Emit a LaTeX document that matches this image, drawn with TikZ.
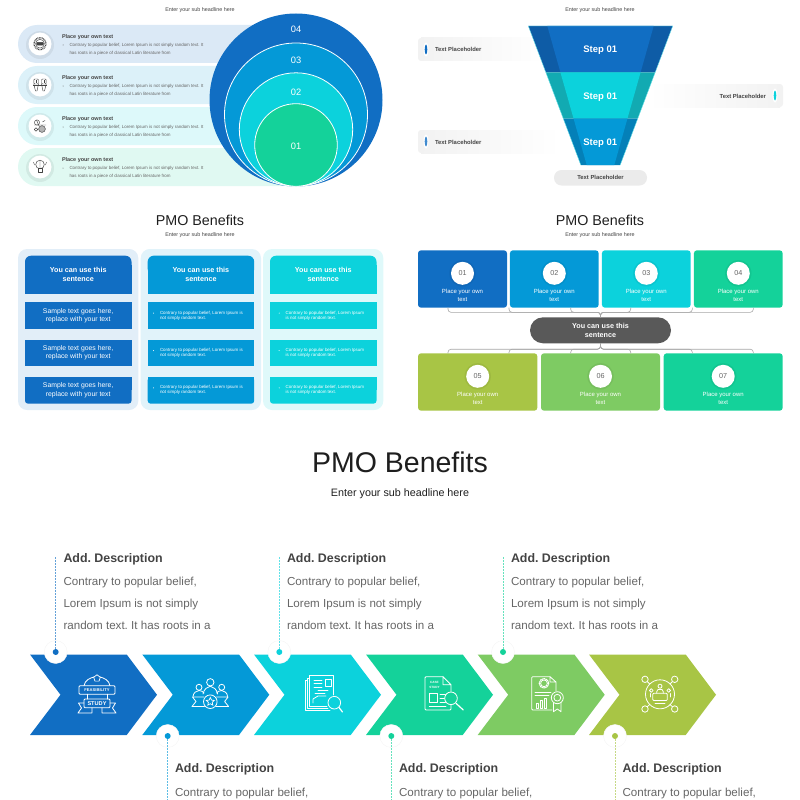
\documentclass[tikz,border=0pt]{standalone}
\usepackage{fontspec}
\setmainfont{Liberation Sans}
\frenchspacing
\usetikzlibrary{calc,positioning,shapes.geometric}

\definecolor{cNavy}{HTML}{116EC3}
\definecolor{cSky}{HTML}{0499D7}
\definecolor{cAqua}{HTML}{0CD2DC}
\definecolor{cMint}{HTML}{14D29A}
\definecolor{cLeaf}{HTML}{7ECB63}
\definecolor{cMoss}{HTML}{A8C545}
\definecolor{cNavyDark}{HTML}{0E5CA6}
\definecolor{cAquaDark}{HTML}{12AAB2}
\definecolor{cSkyDark}{HTML}{0480B8}
\definecolor{cInk}{HTML}{1E1E1E}
\definecolor{cHead}{HTML}{434343}
\definecolor{cBody}{HTML}{666666}
\definecolor{cPill}{HTML}{595959}

\tikzset{
    txt/.style={inner sep=0pt,outer sep=0pt,align=center},
    ltxt/.style={txt,anchor=west,align=left},
    bigtitle/.style={txt,text=cInk,font=\fontsize{28.5}{34}\selectfont},
    bigsub/.style={txt,text=cInk,font=\fontsize{10.75}{13}\selectfont},
    smalltitle/.style={txt,text=cInk,font=\fontsize{14.3}{17}\selectfont},
    smallsub/.style={txt,text=cHead,font=\fontsize{5.4}{6.5}\selectfont},
    rowhead/.style={ltxt,text=cHead,font=\bfseries\fontsize{5.45}{6.5}\selectfont},
    rowbody/.style={ltxt,text=cBody,font=\fontsize{4.45}{5}\selectfont},
    ringnum/.style={txt,text=white,font=\fontsize{9.3}{11}\selectfont},
    stepnum/.style={txt,text=white,font=\bfseries\fontsize{9.5}{11}\selectfont},
    holder/.style={txt,text=cHead,font=\bfseries\fontsize{5.85}{7}\selectfont},
    colhead/.style={txt,text=white,font=\bfseries\fontsize{7.2}{9.3}\selectfont},
    colsample/.style={txt,text=white,font=\fontsize{6.85}{8.3}\selectfont},
    colsmall/.style={ltxt,text=white,font=\fontsize{4.45}{5}\selectfont},
    capbox/.style={txt,text=white,font=\fontsize{6}{7.4}\selectfont},
    tile/.style={inner sep=0pt,minimum height=57.4pt,rounded corners=3pt},
    disc/.style={circle,fill=white,inner sep=0pt,minimum size=23pt,text=cBody,font=\fontsize{7.2}{8.5}\selectfont},
    sentence/.style={fill=cPill,rounded corners=13pt,inner sep=0pt,minimum width=141pt,minimum height=26pt,align=center,text=white,font=\bfseries\fontsize{7.2}{9.3}\selectfont},
    bracket/.style={draw=black!35,line width=0.6pt,rounded corners=3pt},
    softring/.style={fill=black,opacity=0.06},
    addhead/.style={ltxt,text=cHead,font=\bfseries\fontsize{12.4}{15}\selectfont},
    addbody/.style={ltxt,text=cBody,font=\fontsize{11.6}{14}\selectfont},
    halo/.style={circle,fill=white,draw=black!4,inner sep=0pt,minimum size=23pt},
    spot/.style={circle,inner sep=0pt,minimum size=6pt},
    iconline/.style={draw=white,line width=0.8pt,line join=round,line cap=round},
    smallicon/.style={draw=cHead,line width=0.45pt,line join=round},
    iconword/.style={txt,text=white,font=\bfseries\fontsize{4.1}{5}\selectfont}
}

\newcommand{\benefitrow}[3]{
    \fill[#3,rounded corners=19pt] (18,#2-19) rectangle (300,#2+19);
    \fill[softring] (40,#2+1) circle (14);
    \fill[white] (40,#2) circle (11.5);
    \node[rowhead] (#1head) at (62,#2-7.3) {Place your own text};
    \fill[cBody] (63,#2+1) circle (0.5);
    \node[rowbody] (#1one) at (69.5,#2+1.3) {Contrary to popular belief, Lorem Ipsum is not simply random text. It};
    \node[rowbody] (#1two) at (69.5,#2+9.3) {has roots in a piece of classical Latin literature from};
}
\newcommand{\benefitcol}[4]{
    \fill[#4,rounded corners=9pt] (#2-7,249) rectangle (#2+113.3,410);
    \fill[#3,rounded corners=6pt] (#2,255.7) rectangle (#2+106.5,275);
    \fill[#3] (#2,265) rectangle (#2+106.5,293.7);
    \fill[#3] (#2,302.3) rectangle (#2+106.5,329);
    \fill[#3] (#2,339.7) rectangle (#2+106.5,366.3);
    \fill[#3,rounded corners=3pt] (#2,377) rectangle (#2+106.5,403.7);
    \fill[#3] (#2,377) rectangle (#2+106.5,390);
    \node[colhead] (#1head) at (#2+53.2,274.7) {You can use this\\sentence};
}
\newcommand{\sampleline}[3]{
    \node[colsample] (#1) at (#2,#3) {Sample text goes here,\\replace with your text};
}
\newcommand{\contraryline}[5]{
    \fill[white] (#2-6.5,#3-2.5) circle (0.5);
    \node[colsmall] (#1) at (#2,#3) {#4\\#5};
}
\newcommand{\numbertile}[5]{
    \node[tile,fill=#5,minimum width=#4pt] (tile#1) at (#2,#3) {};
    \fill[softring] ($(tile#1.center)+(0,-5.7)$) circle (13.2);
    \node[disc] (disc#1) at ($(tile#1.center)+(0,-5.7)$) {#1};
    \node[capbox] (cap#1) at ($(tile#1.center)+(0,16.5)$) {Place your own\\text};
}
\newcommand{\chevron}[2]{
    \fill[#2] (#1,654.5) -- ++(96.7,0) -- ++(30.3,40.25) -- ++(-30.3,40.25) -- ++(-96.7,0) -- ++(30.5,-40.25) -- cycle;
}
\newcommand{\descthree}[2]{
    \node[addhead] (#1head) at (#2,558.8) {Add. Description};
    \node[addbody] (#1one) at (#2,582.8) {Contrary to popular belief,};
    \node[addbody] (#1two) at (#2,604.3) {Lorem Ipsum is not simply};
    \node[addbody] (#1three) at (#2,625.3) {random text. It has roots in a};
}
\newcommand{\descone}[2]{
    \node[addhead] (#1head) at (#2,768.8) {Add. Description};
    \node[addbody] (#1one) at (#2,793.5) {Contrary to popular belief,};
}
\newcommand{\marker}[5]{
    \coordinate (#1end) at (#2,#4);
    \node[halo] (#1halo) at (#2,#3) {};
    \draw[color=#5!65,line width=0.8pt,dash pattern=on 1.6pt off 1.4pt] (#1halo.center) -- (#1end);
    \node[spot,fill=#5] (#1spot) at (#2,#3) {};
}
\newcommand{\holderbar}[4]{
    \shade[left color=black!5,right color=white] (#1+3,#2) rectangle (#3,#2+23);
    \fill[black!5,rounded corners=3pt] (#1,#2) rectangle (#1+6,#2+23);
    \fill[white] (#1+8,#2+11.5) ellipse (2.5 and 7);
    \fill[#4] (#1+8,#2+11.5) ellipse (1.3 and 5);
}

\begin{document}
\begin{tikzpicture}[x=1pt,y=-1pt]
    \useasboundingbox (0,0) rectangle (800,800);

    \node[smalltitle] (titleA) at (200,-5.5) {PMO Benefits};
    \node[smallsub] (subA) at (200,10.3) {Enter your sub headline here};
    \node[smalltitle] (titleB) at (600,-5.5) {PMO Benefits};
    \node[smallsub] (subB) at (600,10.3) {Enter your sub headline here};

    \benefitrow{rowA}{44}{cNavy!15}
    \benefitrow{rowB}{85}{cSky!14}
    \benefitrow{rowC}{126}{cAqua!14}
    \benefitrow{rowD}{167}{cMint!13}

    \draw[smallicon,line width=1.2pt,dash pattern=on 0.8pt off 0.7pt] (40,43.7) circle (6);
    \draw[smallicon] (40,43.7) circle (4.4);
    \draw[smallicon,rounded corners=1pt,fill=cHead] (36.5,42.3) rectangle (43.5,45.1);
    \draw[smallicon,rounded corners=1pt] (33.8,79) rectangle (38.5,84);
    \draw[smallicon,rounded corners=1pt] (41.5,79) rectangle (46.2,84);
    \draw[smallicon] (33.8,84) -- (35.5,91) -- (37,91) -- (38.5,84) (41.5,84) -- (43,91) -- (44.5,91) -- (46.2,84);
    \draw[smallicon,line width=0.9pt] (33.2,85.5) -- (46.8,85.5);
    \draw[smallicon,line width=0.8pt] (36,80) -- (36,83) (44,80) -- (44,83);
    \draw[smallicon] (37,122.5) circle (2.6);
    \draw[smallicon,fill=cHead!40] (42,129) circle (3.4);
    \draw[smallicon] (36,129.5) circle (1.8);
    \draw[smallicon] (42.5,122) -- (45,120.5) (39,126) -- (36.5,120) (34,125) -- (46,125);
    \draw[smallicon] (40,164.5) circle (4.3);
    \draw[smallicon] (38,168.5) rectangle (42,172.3);
    \draw[smallicon] (40,160.5) -- (40,168.5) (33.5,162) -- (34.5,165) (46.5,162) -- (45.5,165);

    \fill[cNavy] (296,100) circle (86.5);
    \draw[white,line width=0.8pt,fill=cSky] (296,114.5) circle (71.5);
    \draw[white,line width=0.8pt,fill=cAqua] (296,129.5) circle (56.7);
    \draw[white,line width=0.8pt,fill=cMint] (296,145) circle (41.3);
    \node[ringnum] (ringD) at (296,29.5) {04};
    \node[ringnum] (ringC) at (296,60.5) {03};
    \node[ringnum] (ringB) at (296,92) {02};
    \node[ringnum] (ringA) at (296,146) {01};

    \coordinate (FaL) at (528.3,26);
    \coordinate (FaR) at (672.7,26);
    \coordinate (FbL) at (545.8,72.3);
    \coordinate (FbR) at (655.2,72.3);
    \coordinate (FcL) at (563.3,118.7);
    \coordinate (FcR) at (637.7,118.7);
    \coordinate (FdL) at (580.8,165);
    \coordinate (FdR) at (620.2,165);
    \coordinate (GaL) at (547.3,26);
    \coordinate (GaR) at (653.7,26);
    \coordinate (GbL) at (560.4,72.3);
    \coordinate (GbR) at (640.6,72.3);
    \coordinate (GcL) at (573.6,118.7);
    \coordinate (GcR) at (627.4,118.7);
    \coordinate (GdL) at (586.7,165);
    \coordinate (GdR) at (614.3,165);

    \holderbar{418}{38}{545}{cNavy}
    \holderbar{418}{130}{560}{cNavy!80}
    \shade[left color=white,right color=black!5] (648,84) rectangle (780,107);
    \fill[black!5,rounded corners=3pt] (777,84) rectangle (783,107);
    \fill[white] (775,95.5) ellipse (2.5 and 7);
    \fill[cAqua] (775,95.5) ellipse (1.3 and 5);
    \fill[black!8,rounded corners=7.5pt] (554,170) rectangle (647,185.5);

    \fill[cNavyDark] (FaL) -- (FaR) -- (FbR) -- (FbL) -- cycle;
    \fill[cNavy] (GaL) -- (GaR) -- (GbR) -- (GbL) -- cycle;
    \fill[cAquaDark] (FbL) -- (FbR) -- (FcR) -- (FcL) -- cycle;
    \fill[cAqua] (GbL) -- (GbR) -- (GcR) -- (GcL) -- cycle;
    \fill[cSkyDark] (FcL) -- (FcR) -- (FdR) -- (FdL) -- cycle;
    \fill[cSky] (GcL) -- (GcR) -- (GdR) -- (GdL) -- cycle;
    \draw[cAqua!60,line width=0.4pt] (FdL) -- (FaL) -- (FaR) -- (FdR);

    \node[stepnum] (stepA) at (600.3,50.3) {Step 01};
    \node[stepnum] (stepB) at (600.3,96.8) {Step 01};
    \node[stepnum] (stepC) at (600.3,142.8) {Step 01};
    \node[holder,anchor=west] (holdA) at (435,49.8) {Text Placeholder};
    \node[holder,anchor=east] (holdB) at (766,96) {Text Placeholder};
    \node[holder,anchor=west] (holdC) at (435,142) {Text Placeholder};
    \node[holder] (holdD) at (600.5,177.7) {Text Placeholder};

    \node[smalltitle] (titleC) at (200,220) {PMO Benefits};
    \node[smallsub] (subC) at (200,235.3) {Enter your sub headline here};
    \node[smalltitle] (titleD) at (600,220) {PMO Benefits};
    \node[smallsub] (subD) at (600,235.3) {Enter your sub headline here};

    \benefitcol{colA}{25}{cNavy}{cNavy!12}
    \benefitcol{colB}{147.7}{cSky}{cSky!12}
    \benefitcol{colC}{270}{cAqua}{cAqua!13}
    \sampleline{sampleA}{78.2}{315.6}
    \sampleline{sampleB}{78.2}{353}
    \sampleline{sampleC}{78.2}{390.3}
    \contraryline{smallA}{160}{315.6}{Contrary to popular belief, Lorem Ipsum is}{not simply random text.}
    \contraryline{smallB}{160}{353}{Contrary to popular belief, Lorem Ipsum is}{not simply random text.}
    \contraryline{smallC}{160}{390.3}{Contrary to popular belief, Lorem Ipsum is}{not simply random text.}
    \contraryline{smallD}{285.7}{315.6}{Contrary to popular belief, Lorem Ipsum}{is not simply random text.}
    \contraryline{smallE}{285.7}{353}{Contrary to popular belief, Lorem Ipsum}{is not simply random text.}
    \contraryline{smallF}{285.7}{390.3}{Contrary to popular belief, Lorem Ipsum}{is not simply random text.}

    \numbertile{01}{462.5}{279}{89}{cNavy}
    \numbertile{02}{554.3}{279}{88.7}{cSky}
    \numbertile{03}{646.3}{279}{88.7}{cAqua}
    \numbertile{04}{738.3}{279}{88.7}{cMint}
    \numbertile{05}{477.7}{382}{119.3}{cMoss}
    \numbertile{06}{600.5}{382}{119}{cLeaf}
    \numbertile{07}{723.2}{382}{119}{cMint}
    \node[sentence] (pill) at (600.5,330.3) {You can use this\\sentence};

    \coordinate (ta) at (448,307.7);
    \coordinate (tb) at (509,307.7);
    \coordinate (tc) at (570.7,307.7);
    \coordinate (td) at (630.7,307.7);
    \coordinate (te) at (692.3,307.7);
    \coordinate (tf) at (753.3,307.7);
    \coordinate (ua) at (448,353.3);
    \coordinate (ub) at (509,353.3);
    \coordinate (uc) at (570.7,353.3);
    \coordinate (ud) at (630.7,353.3);
    \coordinate (ue) at (692.3,353.3);
    \coordinate (uf) at (753.3,353.3);
    \draw[bracket] (pill.north) -- ++(0,-4.8) -| (ta);
    \draw[bracket] (pill.north) -- ++(0,-4.8) -| (tb);
    \draw[bracket] (pill.north) -- ++(0,-4.8) -| (tc);
    \draw[bracket] (pill.north) -- ++(0,-4.8) -| (td);
    \draw[bracket] (pill.north) -- ++(0,-4.8) -| (te);
    \draw[bracket] (pill.north) -- ++(0,-4.8) -| (tf);
    \draw[bracket] (pill.south) -- ++(0,5.7) -| (ua);
    \draw[bracket] (pill.south) -- ++(0,5.7) -| (ub);
    \draw[bracket] (pill.south) -- ++(0,5.7) -| (uc);
    \draw[bracket] (pill.south) -- ++(0,5.7) -| (ud);
    \draw[bracket] (pill.south) -- ++(0,5.7) -| (ue);
    \draw[bracket] (pill.south) -- ++(0,5.7) -| (uf);

    \node[bigtitle] (titleE) at (400,462.5) {PMO Benefits};
    \node[bigsub] (subE) at (400,494) {Enter your sub headline here};

    \descthree{addA}{63.5}
    \descthree{addC}{287}
    \descthree{addE}{511}
    \descone{addB}{175}
    \descone{addD}{399}
    \descone{addF}{622.5}

    \chevron{30}{cNavy}
    \chevron{142.3}{cSky}
    \chevron{254}{cAqua}
    \chevron{366}{cMint}
    \chevron{477.7}{cLeaf}
    \chevron{589}{cMoss}

    \marker{mA}{55.7}{652}{557}{cNavy}
    \marker{mB}{167.7}{736}{800}{cSky}
    \marker{mC}{279.3}{652}{557}{cAqua}
    \marker{mD}{391.3}{736}{800}{cMint}
    \marker{mE}{503}{652}{557}{cMint}
    \marker{mF}{615}{736}{800}{cMoss}

    \draw[iconline,rounded corners=1pt] (79,685.7) rectangle (115,694.3);
    \node[iconword] (wordA) at (97,690) {FEASIBILITY};
    \draw[iconline] (84,685.7) .. controls (85,680) and (90,678) .. (94,677) (100,677) .. controls (104,678) and (109,680) .. (110,685.7);
    \node[regular polygon,regular polygon sides=5,draw=white,line width=0.7pt,inner sep=0pt,minimum size=7pt] (penA) at (97,678.3) {};
    \draw[iconline] (87,694.3) -- (87,699) (107,694.3) -- (107,699);
    \draw[iconline,rounded corners=1pt] (84,699) rectangle (110,707.7);
    \node[iconword,font=\bfseries\fontsize{5.6}{6}\selectfont] (wordB) at (97,703.4) {STUDY};
    \draw[iconline] (84,703) -- (78.5,703) -- (81.5,708) -- (78,713) -- (92,713) -- (92,707.7);
    \draw[iconline] (110,703) -- (115.5,703) -- (112.5,708) -- (116,713) -- (102,713) -- (102,707.7);

    \draw[iconline] (210.3,682.3) circle (3.7);
    \draw[iconline] (199,687.3) circle (3);
    \draw[iconline] (221.7,687.3) circle (3);
    \draw[iconline] (203,694) .. controls (204,689) and (207,687) .. (210.3,686.2) .. controls (213.6,687) and (216.6,689) .. (217.6,694);
    \draw[iconline] (193,696.5) .. controls (193.5,692.5) and (196,691) .. (199,690.5) .. controls (201,690.6) and (203,691.5) .. (204,693);
    \draw[iconline] (227.6,696.5) .. controls (227.1,692.5) and (224.6,691) .. (221.6,690.5) .. controls (219.6,690.6) and (217.6,691.5) .. (216.6,693);
    \draw[iconline] (204,697) -- (192.5,697) -- (196,701.5) -- (192,706.5) -- (204.5,706.5);
    \draw[iconline] (216.6,697) -- (228.1,697) -- (224.6,701.5) -- (228.6,706.5) -- (216.1,706.5);
    \draw[iconline,fill=cSky] (210.3,701.7) circle (6.8);
    \node[star,star points=5,star point ratio=2.1,draw=white,line width=0.7pt,inner sep=0pt,minimum size=8.5pt] (starB) at (210.3,701.7) {};

    \draw[iconline] (333.3,695) -- (333.3,675) -- (309.3,675) -- (309.3,706) -- (327,706);
    \draw[iconline] (309.3,678) -- (307,678) -- (307,708.5) -- (328,708.5);
    \draw[iconline] (307,680.5) -- (305,680.5) -- (305,710.7) -- (330,710.7);
    \draw[iconline] (314,680) -- (322,680) (314,683.5) -- (322,683.5) (314,687) -- (322,687);
    \draw[iconline] (325,679.5) rectangle (331,686);
    \draw[iconline] (318,690) -- (328,690) (315,693) -- (325,693);
    \draw[iconline] (313,703) -- (313,699) -- (318,696) -- (326,696);
    \draw[iconline,fill=cAqua] (334.3,702.7) circle (6.3);
    \draw[iconline,line width=1.2pt] (339,707.5) -- (342.5,712);

    \draw[iconline,rounded corners=1pt] (443,676.7) -- (425,676.7) -- (425,710) -- (451,710) -- (451,704.8);
    \draw[iconline] (451,691.5) -- (451,684.7) -- (443,676.7) -- (443,684.7) -- (451,684.7);
    \node[iconword,font=\bfseries\fontsize{3.1}{4}\selectfont] (wordC) at (434.5,682) {CASE};
    \node[iconword,font=\bfseries\fontsize{3.1}{4}\selectfont] (wordD) at (434.5,687) {STUDY};
    \draw[iconline] (429.3,693.3) rectangle (437.7,702.3);
    \draw[iconline] (440,694) -- (445.5,694) (440,698) -- (444.5,698) (440,702) -- (445.5,702) (429.3,706.5) -- (446,706.5);
    \draw[iconline,fill=cMint] (451,698.3) circle (6.3);
    \draw[iconline,line width=1.2pt] (456,703.3) -- (463.3,710);

    \draw[iconline,rounded corners=1pt] (550,676.7) -- (531.7,676.7) -- (531.7,710) -- (552,710);
    \draw[iconline] (556,691) -- (556,682) -- (550,676.7) -- (550,682) -- (556,682);
    \draw[iconline,line width=1.1pt,dash pattern=on 1pt off 1pt] (544,683.3) circle (4.8);
    \draw[iconline] (544,683.3) circle (3.4);
    \draw[iconline] (535,692.3) -- (551,692.3) (535,695.7) -- (549,695.7);
    \draw[iconline] (536,703) rectangle (538.5,708);
    \draw[iconline] (540,700.5) rectangle (542.5,708);
    \draw[iconline] (544,698.5) rectangle (546.5,708);
    \draw[iconline] (553.5,702.5) -- (553.5,711.7) -- (557.3,709) -- (561,711.7) -- (561,702.5);
    \draw[iconline,fill=cLeaf] (557.3,697.7) circle (6);
    \draw[iconline] (557.3,697.7) circle (3.4);

    \draw[iconline] (660,694.3) circle (14.5);
    \draw[iconline] (645,679.3) circle (3.2);
    \draw[iconline] (674.7,679.3) circle (3.2);
    \draw[iconline] (645,709) circle (3.2);
    \draw[iconline] (674.7,709) circle (3.2);
    \draw[iconline] (647.3,681.6) -- (649.7,684) (672.4,681.6) -- (670,684) (647.3,706.7) -- (649.7,704.5) (672.4,706.7) -- (670,704.5);
    \draw[iconline,rounded corners=1pt] (652.7,693.3) rectangle (667.3,700.5);
    \draw[iconline] (660,686.2) circle (2);
    \draw[iconline] (656.8,693.3) -- (656.8,691.5) -- (658,689.5) -- (662,689.5) -- (663.2,691.5) -- (663.2,693.3);
    \draw[iconline] (651.3,690.5) circle (1.8);
    \draw[iconline] (668.7,690.5) circle (1.8);
    \draw[iconline] (650,697) -- (650,693.5) (670,697) -- (670,693.5) (655,703.5) -- (665,703.5);
\end{tikzpicture}
\end{document}
